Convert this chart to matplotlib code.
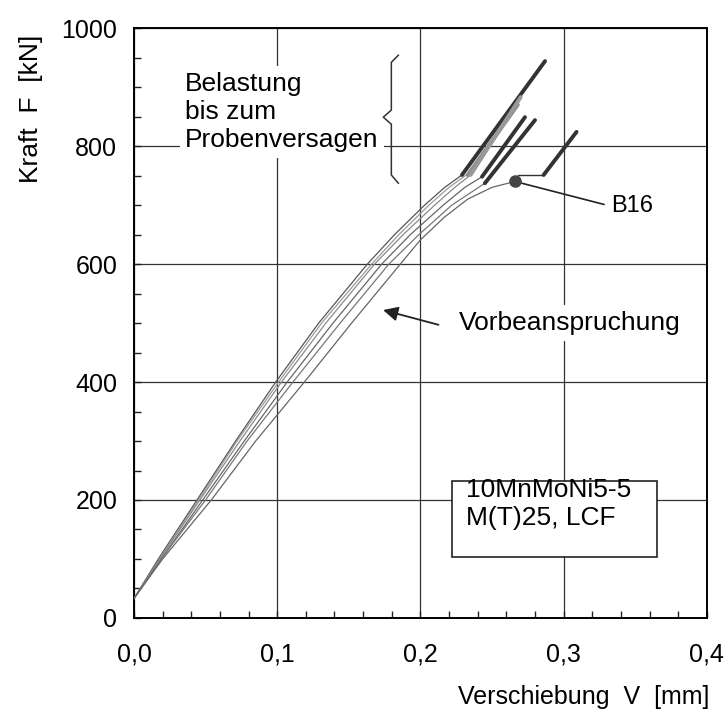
"""Kraft-Verschiebungs-Kurven M(T)25, LCF-Vorbeanspruchung und Belastung bis Versagen."""

import matplotlib
matplotlib.use("Agg")
import matplotlib.pyplot as plt
from matplotlib.patches import Rectangle

plt.rcParams["font.family"] = ["Liberation Sans", "DejaVu Sans"]

# ---- Data ----
# thin curves: pre-loading (Vorbeanspruchung), V in mm, F in kN
PRE_V = {
    "A": [0, 0.017, 0.044, 0.071, 0.099, 0.129, 0.163, 0.182, 0.203, 0.217, 0.229],
    "F": [0, 0.018, 0.045, 0.072, 0.101, 0.131, 0.166, 0.185, 0.206, 0.220, 0.232],
    "B": [0, 0.018, 0.046, 0.074, 0.103, 0.134, 0.168, 0.188, 0.210, 0.224, 0.235],
    "C": [0, 0.019, 0.048, 0.077, 0.107, 0.139, 0.173, 0.193, 0.216, 0.231, 0.243],
    "D": [0, 0.019, 0.050, 0.079, 0.111, 0.144, 0.178, 0.199, 0.222, 0.245],
    "B16": [0, 0.020, 0.054, 0.085, 0.119, 0.152, 0.186, 0.200, 0.217, 0.233, 0.250, 0.266],
}
PRE_F = {
    "A": [33, 100, 200, 300, 400, 500, 600, 650, 700, 730, 751],
    "F": [33, 100, 200, 300, 400, 500, 600, 650, 700, 730, 751],
    "B": [33, 100, 200, 300, 400, 500, 600, 650, 700, 730, 751],
    "C": [33, 100, 200, 300, 400, 500, 600, 650, 700, 730, 748],
    "D": [33, 100, 200, 300, 400, 500, 600, 650, 700, 737],
    "B16": [33, 100, 200, 300, 400, 500, 600, 641, 680, 710, 730, 740],
}
PRE_COLOR = {"A": "#555555", "F": "#9a9a9a", "B": "#8a8a8a",
             "C": "#666666", "D": "#777777", "B16": "#666666"}

# thick segments: final loading up to failure
FAIL_V = {
    "A": [0.229, 0.287],
    "F": [0.233, 0.268],
    "B": [0.235, 0.270],
    "C": [0.243, 0.273],
    "D": [0.245, 0.280],
    "B16": [0.286, 0.309],
}
FAIL_F = {
    "A": [751, 944],
    "F": [751, 870],
    "B": [751, 883],
    "C": [748, 849],
    "D": [737, 844],
    "B16": [751, 824],
}
FAIL_COLOR = {"A": "#333333", "F": "#8c8c8c", "B": "#999999",
              "C": "#333333", "D": "#333333", "B16": "#333333"}

# B16: end of pre-loading and reloading start
B16_DOT = (0.266, 740)
B16_BRIDGE_V = [0.268, 0.286]
B16_BRIDGE_F = [751, 751]

X_TICKS = [0.0, 0.1, 0.2, 0.3, 0.4]
X_TICKLABELS = ["0,0", "0,1", "0,2", "0,3", "0,4"]
Y_TICKS = [0, 200, 400, 600, 800, 1000]

# ---- Figure ----
fig = plt.figure(figsize=(7.28, 7.20), dpi=100)
ax = fig.add_axes([0.184, 0.1417, 0.787, 0.8193])

for key in PRE_V:
    ax.plot(PRE_V[key], PRE_F[key], color=PRE_COLOR[key], lw=0.9, zorder=3)
for key in FAIL_V:
    ax.plot(FAIL_V[key], FAIL_F[key], color=FAIL_COLOR[key], lw=2.8,
            solid_capstyle="round", zorder=4)
ax.plot(B16_BRIDGE_V, B16_BRIDGE_F, color="#333333", lw=1.0, zorder=4)
ax.plot(*B16_DOT, "o", ms=8, color="#444444", zorder=5)

ax.set_xlim(0, 0.4)
ax.set_ylim(0, 1000)
ax.set_xticks(X_TICKS)
ax.set_xticklabels(X_TICKLABELS)
ax.set_yticks(Y_TICKS)
ax.set_xticks([i * 0.02 for i in range(21)], minor=True)
ax.set_yticks([i * 50 for i in range(21)], minor=True)
ax.tick_params(which="both", direction="in", length=5, width=1.0,
               top=False, right=False, color="#222222")
ax.tick_params(which="major", labelsize=18)
ax.tick_params(axis="x", which="major", pad=18)
ax.tick_params(axis="y", which="major", pad=12)
ax.grid(True, which="major", color="#333333", lw=0.9)
ax.set_axisbelow(True)
for sp in ax.spines.values():
    sp.set_linewidth(1.4)

# ---- Annotations ----
ax.text(0.0357, 858, "Belastung\nbis zum\nProbenversagen", fontsize=19,
        va="center", ha="left", linespacing=1.22,
        bbox=dict(facecolor="white", edgecolor="none", pad=4), zorder=6)

brace_v = [0.1846, 0.1797, 0.1797, 0.1741, 0.1797, 0.1797, 0.1846]
brace_f = [954, 942, 861, 849, 837, 751, 737]
ax.plot(brace_v, brace_f, color="#333333", lw=1.1, zorder=6)

ax.annotate("", xy=(0.174, 522), xytext=(0.2126, 497),
            arrowprops=dict(arrowstyle="-|>", color="#222222", lw=1.3,
                            mutation_scale=22, shrinkA=0, shrinkB=0))
ax.text(0.2266, 500, "Vorbeanspruchung", fontsize=19, va="center", ha="left",
        bbox=dict(facecolor="white", edgecolor="none", pad=4), zorder=6)

ax.annotate("B16", xy=B16_DOT, xytext=(0.333, 698), fontsize=17,
            va="center", ha="left",
            arrowprops=dict(arrowstyle="-", color="#222222", lw=1.2,
                            shrinkA=3, shrinkB=0, relpos=(0, 0.5)))

ax.add_patch(Rectangle((0.2217, 103), 0.1433, 129, facecolor="white",
                       edgecolor="#222222", lw=1.2, zorder=6))
ax.text(0.2315, 237, "10MnMoNi5-5\nM(T)25, LCF", fontsize=19, va="top",
        ha="left", linespacing=1.18, zorder=7)

fig.text(0.0426, 0.849, "Kraft  F  [kN]", rotation=90, fontsize=19,
         ha="center", va="center")
fig.text(0.975, 0.032, "Verschiebung  V  [mm]", fontsize=18,
         ha="right", va="center")

fig.savefig("out.png", dpi=100)
